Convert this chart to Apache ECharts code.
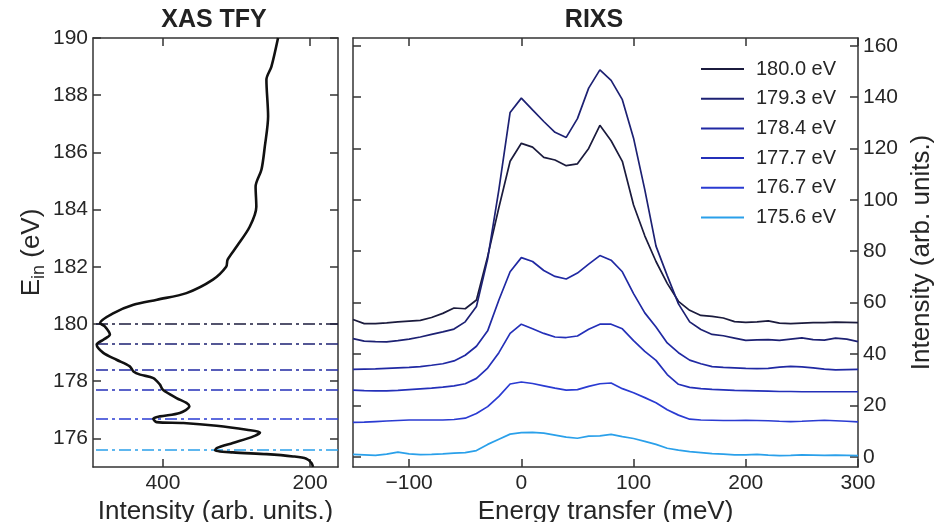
<!DOCTYPE html>
<html>
<head>
<meta charset="utf-8">
<script src="https://cdn.jsdelivr.net/npm/echarts@6/dist/echarts.min.js"></script>
<style>
html,body{margin:0;padding:0;background:#fff;}
#chart{width:948px;height:522px;}
</style>
</head>
<body>
<div id="chart"></div>
<script>
// ---- XAS TFY (left panel) ----
const xasEnergy = [190.0, 189.0, 188.54, 187.26, 186.2, 185.4, 184.8, 184.1, 183.4, 182.7, 182.25, 182.0, 181.55, 181.08, 180.85, 180.67, 180.38, 180.03, 179.92, 179.63, 179.45, 179.28, 178.99, 178.75, 178.52, 178.34, 178.23, 178.11, 177.88, 177.70, 177.41, 177.24, 177.12, 176.89, 176.77, 176.69, 176.57, 176.54, 176.44, 176.30, 176.21, 176.07, 175.84, 175.66, 175.58, 175.51, 175.45, 175.37, 175.29, 175.14, 175.0];
const xasIntensity = [243.5, 252.5, 259.3, 257, 261.5, 266, 274, 273, 282, 300, 312, 314, 332, 368, 408, 440, 467, 485.5, 479, 472, 481, 490, 481, 463, 445, 440, 431, 413, 404, 400, 381.5, 368, 364, 377, 404, 413, 408.5, 372, 327, 286, 268, 277, 305, 327, 329, 305, 259, 223, 205, 198, 196];
const xasTicks = [200, 400];
const eInTicks = [176, 178, 180, 182, 184, 186, 188, 190];

// ---- RIXS (right panel) ----
const incidentEnergies = [180.0, 179.3, 178.4, 177.7, 176.7, 175.6];
const seriesLabels = ['180.0 eV', '179.3 eV', '178.4 eV', '177.7 eV', '176.7 eV', '175.6 eV'];
const energyTransfer = [-150, -140, -130, -120, -110, -100, -90, -80, -70, -60, -50, -40, -30, -20, -10, 0, 10, 20, 30, 40, 50, 60, 70, 80, 90, 100, 110, 120, 130, 140, 150, 160, 170, 180, 190, 200, 210, 220, 230, 240, 250, 260, 270, 280, 290, 300];
const rixs1800 = [53.4, 51.8, 51.8, 52.1, 52.5, 52.8, 53.1, 54.2, 55.8, 57.9, 57.6, 61, 78, 97, 115, 122, 120.5, 116.5, 115.5, 113.3, 114, 120, 129, 123, 115, 98, 86, 76, 67.5, 60.5, 57, 55, 54.6, 54, 52.6, 52.3, 52.5, 52.9, 52, 51.8, 52, 52.2, 52.2, 52.4, 52.3, 52.2];
const rixs1793 = [46, 45, 44.8, 44.7, 45.2, 45.8, 46.6, 47.6, 48.6, 49.7, 52.5, 58.5, 77, 104, 134, 139.6, 135, 130.5, 126.3, 124.3, 131.6, 143.5, 150.6, 146.5, 139, 124, 104, 82, 70.5, 59.5, 52.5, 49.5, 47.6, 47.1, 46.2, 45.3, 45.5, 45.6, 45.3, 45.8, 46.3, 45.6, 45.4, 46.2, 45.8, 44.8];
const rixs1784 = [34, 34.1, 34.2, 34.4, 34.6, 34.8, 35.1, 35.6, 36.2, 37.3, 39.5, 43, 49, 61, 72, 77.5, 76, 72.5, 70.2, 69.2, 71.5, 75, 78.3, 76.5, 72, 63.5, 56, 50.5, 44.3, 40.5, 37.6, 36.2, 35.1, 34.8, 34.6, 34.4, 34.3, 34.4, 34.9, 35.2, 35, 34.6, 34.1, 33.8, 33.9, 34];
const rixs1777 = [25.9, 25.7, 25.6, 25.6, 25.8, 26.1, 26.4, 26.7, 27.1, 27.6, 28.4, 30.5, 34.5, 40.5, 48, 51.6, 49.8, 48, 46.6, 46.4, 47, 49.6, 51.6, 51.6, 49.8, 45.2, 41, 37.5, 32, 28.2, 27, 26.5, 26.2, 26, 25.8, 25.7, 25.6, 25.5, 25.4, 25.4, 25.3, 25.3, 25.3, 25.3, 25.3, 25.3];
const rixs1767 = [13.4, 13.5, 13.7, 13.9, 14.1, 14.3, 14.3, 14.3, 14.3, 14.5, 15, 16.8, 19.5, 23.5, 28.3, 29.1, 28.5, 27.6, 26.7, 25.9, 26.1, 27.4, 28.4, 28.7, 26.5, 24.9, 23, 21, 18.3, 16.2, 14.6, 14.3, 14.2, 14.1, 14.1, 14.2, 14.1, 14, 13.8, 13.7, 13.8, 14, 14.2, 14, 13.8, 13.6];
const rixs1756 = [0.9, 0.7, 0.5, 1, 1.8, 1.1, 0.8, 0.9, 1.1, 1.4, 1.6, 2.4, 4.8, 6.8, 8.8, 9.4, 9.5, 9.2, 8.4, 7.6, 7.2, 8, 8.1, 8.7, 7.8, 7.1, 6, 4.8, 3.3, 2.6, 2, 1.6, 1.2, 1, 0.7, 0.7, 0.9, 0.6, 0.4, 0.5, 0.7, 0.6, 0.5, 0.6, 0.5, 0.4];
const rixsTicksX = [-100, 0, 100, 200, 300];
const rixsTicksY = [0, 20, 40, 60, 80, 100, 120, 140, 160];

const rixsSets = [rixs1800, rixs1793, rixs1784, rixs1777, rixs1767, rixs1756];
const colors = ['#1b1b3d', '#1d2173', '#2029a3', '#2430b9', '#2a3bd2', '#2aa0ea'];

const FONT = '"Liberation Sans", Arial, sans-serif';
const TXT = '#262626';
const axisLineStyle = { color: '#333', width: 1.5 };

function xAxisCfg(grid, pos, min, max, ticks, inverse, showLabel, name) {
  const a = {
    type: 'value', gridIndex: grid, position: pos, min: min, max: max, inverse: inverse,
    axisLine: { show: true, onZero: false, lineStyle: axisLineStyle },
    axisTick: { show: true, inside: true, length: 8, customValues: ticks, lineStyle: axisLineStyle },
    axisLabel: { show: showLabel, customValues: ticks, fontSize: 21, margin: 6, color: TXT, fontFamily: FONT,
      formatter: v => (v < 0 ? '\u2212' + Math.abs(v) : String(v)) },
    splitLine: { show: false }
  };
  if (name) {
    a.name = name; a.nameLocation = 'middle'; a.nameGap = 25;
    a.nameTextStyle = { fontSize: 26, color: TXT, fontFamily: FONT, verticalAlign: 'top' };
  }
  return a;
}
function yAxisCfg(grid, pos, min, max, ticks, showLabel) {
  return {
    type: 'value', gridIndex: grid, position: pos, min: min, max: max,
    axisLine: { show: true, onZero: false, lineStyle: axisLineStyle },
    axisTick: { show: true, inside: true, length: 8, customValues: ticks, lineStyle: axisLineStyle },
    axisLabel: { show: showLabel, customValues: ticks, fontSize: 21, margin: 5, color: TXT, fontFamily: FONT },
    splitLine: { show: false }
  };
}

const yLeft = yAxisCfg(0, 'left', 175, 190, eInTicks, true);
yLeft.name = '{a|E}{s|in}{a| (eV)}';
yLeft.nameLocation = 'middle';
yLeft.nameRotate = 90;
yLeft.nameGap = 45;
yLeft.nameTextStyle = {
  fontFamily: FONT, color: TXT,
  rich: {
    a: { fontSize: 26, fontFamily: FONT, color: TXT, lineHeight: 32, verticalAlign: 'middle' },
    s: { fontSize: 18, fontFamily: FONT, color: TXT, lineHeight: 32, verticalAlign: 'bottom' }
  }
};

const yRight = yAxisCfg(1, 'right', -4, 163, rixsTicksY, true);
yRight.name = 'Intensity (arb. units.)';
yRight.nameLocation = 'middle';
yRight.nameRotate = 90;
yRight.nameGap = 48;
yRight.nameTextStyle = { fontSize: 26, color: TXT, fontFamily: FONT };

const series = [];
series.push({
  type: 'line', name: 'XAS', xAxisIndex: 0, yAxisIndex: 0,
  data: xasEnergy.map((e, i) => [xasIntensity[i], e]),
  showSymbol: false, smooth: 0.3,
  lineStyle: { color: '#111', width: 2.6 }, z: 5,
  markLine: {
    silent: true, symbol: ['none', 'none'], label: { show: false },
    animation: false,
    data: incidentEnergies.map((e, i) => ({
      yAxis: e,
      lineStyle: { color: colors[i], width: 1.6, type: [12, 4, 3, 4] }
    }))
  }
});
rixsSets.forEach((arr, i) => {
  series.push({
    type: 'line', name: seriesLabels[i], xAxisIndex: 2, yAxisIndex: 2,
    data: energyTransfer.map((x, j) => [x, arr[j]]),
    showSymbol: false, color: colors[i],
    lineStyle: { color: colors[i], width: 1.7 }
  });
});

const option = {
  animation: false,
  backgroundColor: '#fff',
  textStyle: { fontFamily: FONT },
  title: [
    { text: 'XAS TFY', left: 209, top: 3, textAlign: 'center',
      textStyle: { fontSize: 25, fontWeight: 'bold', color: '#222', fontFamily: FONT } },
    { text: 'RIXS', left: 589, top: 3, textAlign: 'center',
      textStyle: { fontSize: 25, fontWeight: 'bold', color: '#222', fontFamily: FONT } }
  ],
  grid: [
    { left: 93, top: 38, width: 245, height: 429, outerBoundsMode: 'none', containLabel: false },
    { left: 353, top: 38, width: 505, height: 429, outerBoundsMode: 'none', containLabel: false }
  ],
  legend: {
    data: seriesLabels, orient: 'vertical', left: 696, top: 54,
    icon: 'rect', itemWidth: 43, itemHeight: 2, itemGap: 9.7,
    textStyle: { fontSize: 20, color: TXT, fontFamily: FONT, padding: [0, 0, 0, 7] },
    selectedMode: false
  },
  xAxis: [
    xAxisCfg(0, 'bottom', 162, 495, xasTicks, true, true, 'Intensity (arb. units.)'),
    xAxisCfg(0, 'top', 162, 495, xasTicks, true, false),
    xAxisCfg(1, 'bottom', -150, 300, rixsTicksX, false, true, 'Energy transfer (meV)'),
    xAxisCfg(1, 'top', -150, 300, rixsTicksX, false, false)
  ],
  yAxis: [
    yLeft,
    yAxisCfg(0, 'right', 175, 190, eInTicks, false),
    yAxisCfg(1, 'left', -4, 163, rixsTicksY, false),
    yRight
  ],
  series: series
};
const chart = echarts.init(document.getElementById('chart'), null, { renderer: 'canvas' });
chart.setOption(option);
</script>
</body>
</html>
